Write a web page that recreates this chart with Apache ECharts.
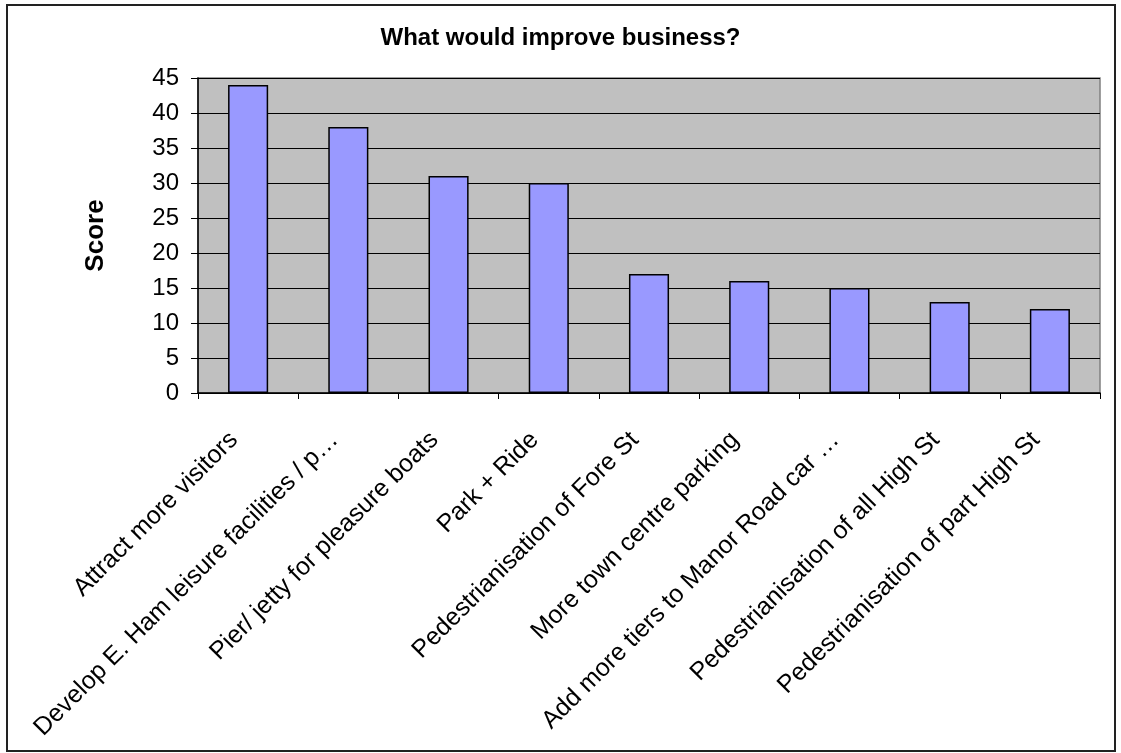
<!DOCTYPE html>
<html>
<head>
<meta charset="utf-8">
<script src="https://cdn.jsdelivr.net/npm/echarts@6/dist/echarts.min.js"></script>
<style>
html,body{margin:0;padding:0;background:#fff;}
#chart{width:1121px;height:753px;}
</style>
</head>
<body>
<div id="chart"></div>
<script>
const categories = [
  "Attract more visitors",
  "Develop E. Ham leisure facilities / p…",
  "Pier/ jetty for pleasure boats",
  "Park + Ride",
  "Pedestrianisation of Fore St",
  "More town centre parking",
  "Add more tiers to Manor Road car …",
  "Pedestrianisation of all High St",
  "Pedestrianisation of part High St"
];
const scores = [44, 38, 31, 30, 17, 16, 15, 13, 12];
const titleText = "What would improve business?";
const yAxisName = "Score";

const FONT = "Liberation Sans, Arial, sans-serif";
const chart = echarts.init(document.getElementById('chart'), null, {renderer: 'canvas'});
chart.setOption({
  animation: false,
  backgroundColor: '#ffffff',
  title: {
    text: titleText,
    left: 'center',
    top: 26,
    padding: 0,
    textStyle: {fontFamily: FONT, fontSize: 24, fontWeight: 'bold', color: '#000'}
  },
  graphic: [{
    type: 'rect',
    shape: {x: 7, y: 5, width: 1108, height: 746},
    style: {fill: 'none', stroke: '#222', lineWidth: 2},
    silent: true,
    z: 100
  }],
  grid: {
    left: 198, right: 21, top: 78, bottom: 360,
    show: true,
    backgroundColor: '#C0C0C0',
    borderColor: '#808080',
    borderWidth: 1.5
  },
  xAxis: {
    type: 'category',
    data: categories,
    boundaryGap: true,
    axisLine: {show: true, lineStyle: {color: '#000', width: 1.5}},
    axisTick: {show: true, length: 6, lineStyle: {color: '#000', width: 1}},
    axisLabel: {
      rotate: 45,
      margin: 29,
      interval: 0,
      padding: [0, 20, 0, 0],
      fontFamily: FONT,
      fontSize: 25,
      color: '#000'
    }
  },
  yAxis: {
    type: 'value',
    min: 0, max: 45, interval: 5,
    name: yAxisName,
    nameLocation: 'middle',
    nameGap: 89,
    nameTextStyle: {fontFamily: FONT, fontSize: 26, fontWeight: 'bold', color: '#000'},
    axisLine: {show: true, lineStyle: {color: '#000', width: 1.5}},
    axisTick: {show: true, length: 7, lineStyle: {color: '#000', width: 1}},
    axisLabel: {margin: 19, fontFamily: FONT, fontSize: 24, color: '#000'},
    splitLine: {show: true, lineStyle: {color: '#000', width: 1}}
  },
  series: [{
    type: 'bar',
    data: scores,
    barWidth: '40%',
    itemStyle: {color: '#9999FF', borderColor: '#000', borderWidth: 1.5}
  }]
});
</script>
</body>
</html>
